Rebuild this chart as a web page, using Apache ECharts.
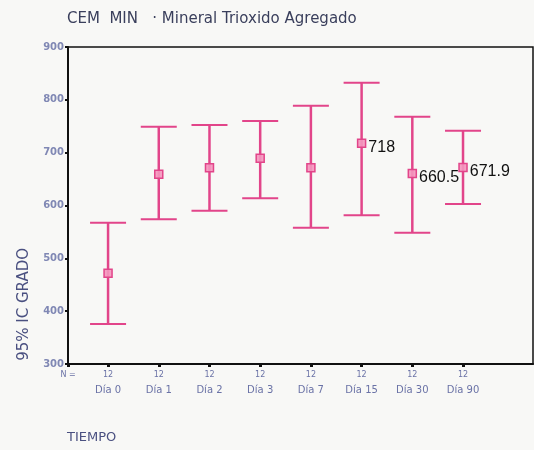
<!DOCTYPE html>
<html>
<head>
<meta charset="utf-8">
<script src="https://cdn.jsdelivr.net/npm/echarts@6/dist/echarts.min.js"></script>
<style>
  html, body { margin: 0; padding: 0; background: #f8f8f6; }
  #chart { width: 534px; height: 450px; }
</style>
</head>
<body>
<div id="chart"></div>
<script>
// data
var days = ['Día 0', 'Día 1', 'Día 2', 'Día 3', 'Día 7', 'Día 15', 'Día 30', 'Día 90']
var counts = ['12', '12', '12', '12', '12', '12', '12', '12']
var means = [471.7, 659, 671.6, 689.3, 671.6, 718, 660.5, 671.9]
var upper = [567.5, 749.2, 752.4, 759.9, 788.9, 832.4, 768.1, 741.6]
var lower = [375.7, 573.9, 590.2, 613.6, 558, 581.5, 548.5, 602.8]
var labelled = [false, false, false, false, false, true, true, true]
var yTicks = [300, 400, 500, 600, 700, 800, 900]
var nTick = -0.79

var pink = '#e2458a'
var axisText = '#6a72a6'

var chart = echarts.init(document.getElementById('chart'))

var barData = days.map(function (d, i) { return [i, lower[i], upper[i]] })
var meanData = days.map(function (d, i) {
  return {
    value: [i, means[i]],
    label: { show: labelled[i] }
  }
})
var xTickValues = [nTick].concat(days.map(function (d, i) { return i }))

chart.setOption({
  backgroundColor: '#f8f8f6',
  animation: false,
  title: {
    text: 'CEM  MIN   · Mineral Trioxido Agregado',
    left: 62,
    top: 7,
    textStyle: {
      fontFamily: 'DejaVu Sans',
      fontWeight: 'normal',
      fontSize: 15,
      color: '#3a3f5c'
    }
  },
  graphic: [{
    type: 'text',
    left: 17,
    top: 248,
    rotation: Math.PI / 2,
    style: {
      text: '95% IC GRADO',
      fontFamily: 'DejaVu Sans',
      fontSize: 15,
      fill: '#4a5080'
    }
  }, {
    type: 'text',
    left: 67,
    top: 431,
    style: {
      text: 'TIEMPO',
      fontFamily: 'DejaVu Sans',
      fontSize: 13,
      fill: '#4a5080'
    }
  }],
  grid: {
    left: 68,
    right: 1,
    top: 47,
    bottom: 86,
    show: true,
    borderColor: '#111',
    borderWidth: 1.5,
    backgroundColor: 'transparent'
  },
  xAxis: {
    type: 'value',
    min: nTick,
    max: 8.38,
    splitLine: { show: false },
    axisLine: { onZero: false, lineStyle: { color: '#111', width: 2 } },
    axisTick: {
      customValues: xTickValues,
      length: 3,
      lineStyle: { color: '#111', width: 3 }
    },
    axisLabel: {
      customValues: xTickValues,
      margin: 4,
      formatter: function (v) {
        if (v === nTick) return '{n|N =}'
        var i = Math.round(v)
        return '{n|' + counts[i] + '}\n{d|' + days[i] + '}'
      },
      rich: {
        n: { fontSize: 8, lineHeight: 14, color: axisText, fontFamily: 'DejaVu Sans' },
        d: { fontSize: 10, lineHeight: 16, color: axisText, fontFamily: 'DejaVu Sans' }
      }
    }
  },
  yAxis: {
    type: 'value',
    min: 300,
    max: 900,
    interval: 100,
    splitLine: { show: false },
    axisLine: { onZero: false, lineStyle: { color: '#111', width: 2 } },
    axisTick: { length: 3, lineStyle: { color: '#111', width: 2 } },
    axisLabel: {
      margin: 4,
      fontSize: 10,
      fontWeight: 'bold',
      color: '#8088b4',
      fontFamily: 'DejaVu Sans',
      formatter: function (v) { return yTicks.indexOf(v) >= 0 ? String(v) : '' }
    }
  },
  series: [{
    type: 'custom',
    data: barData,
    renderItem: function (params, api) {
      var x = api.value(0)
      var lo = api.coord([x, api.value(1)])
      var hi = api.coord([x, api.value(2)])
      var hw = 18
      var style = { stroke: pink, lineWidth: 2 }
      return {
        type: 'group',
        children: [
          { type: 'line', shape: { x1: hi[0], y1: hi[1], x2: lo[0], y2: lo[1] }, style: { stroke: pink, lineWidth: 2.5 } },
          { type: 'line', shape: { x1: hi[0] - hw, y1: hi[1], x2: hi[0] + hw, y2: hi[1] }, style: style },
          { type: 'line', shape: { x1: lo[0] - hw, y1: lo[1], x2: lo[0] + hw, y2: lo[1] }, style: style }
        ]
      }
    },
    z: 2
  }, {
    type: 'scatter',
    data: meanData,
    symbol: 'rect',
    symbolSize: 8,
    itemStyle: {
      color: 'rgba(244, 150, 190, 0.9)',
      borderColor: pink,
      borderWidth: 1.5,
      opacity: 1
    },
    label: {
      position: 'right',
      distance: 2,
      offset: [0, 4],
      color: '#111',
      fontSize: 16,
      fontFamily: 'Liberation Sans',
      formatter: function (p) { return String(p.value[1]) }
    },
    z: 3
  }]
})
</script>
</body>
</html>
